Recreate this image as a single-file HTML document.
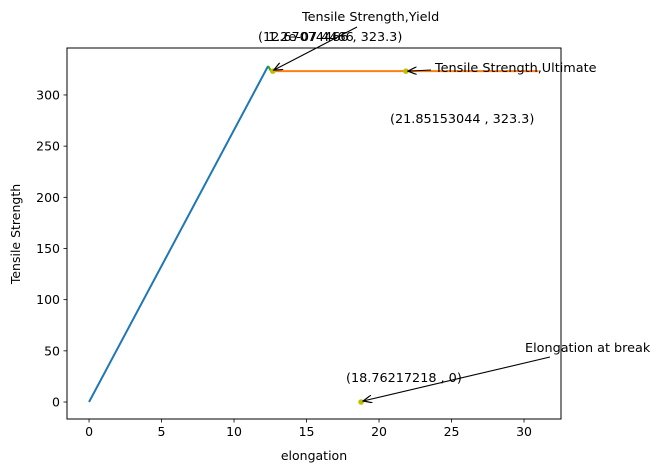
<!DOCTYPE html>
<html><head><meta charset="utf-8"><style>
body{margin:0;background:#fff}
svg{display:block;font-family:"DejaVu Sans","Liberation Sans",sans-serif}
</style></head><body>
<svg id="c" width="671" height="472" xmlns="http://www.w3.org/2000/svg">
<defs><marker id="ah" markerWidth="10" markerHeight="8" refX="9" refY="4" orient="auto" markerUnits="userSpaceOnUse"><path d="M0,0 L9,4 L0,8" fill="none" stroke="#000" stroke-width="1.2"/></marker></defs>
</svg>
<script>
const elasticX=[0,12.35];
const elasticY=[0,328.3];
const transX=[12.35,12.55];
const transY=[328.3,323.3];
const plasticX=[12.67,31];
const plasticY=[323.3,323.3];
const pointsX=[12.67074466,21.85153044,18.76217218];
const pointsY=[323.3,323.3,0];
const xTicks=[0,5,10,15,20,25,30];
const yTicks=[0,50,100,150,200,250,300];
const L=67,R=561,T=48,B=419,xmin=-1.52,xmax=32.55,ymin=-16.6,ymax=345.9;
const sx=v=>L+(v-xmin)/(xmax-xmin)*(R-L);
const sy=v=>B-(v-ymin)/(ymax-ymin)*(B-T);
const svg=document.getElementById('c');
const NS='http://www.w3.org/2000/svg';
function mk(t,a,p){const e=document.createElementNS(NS,t);for(const k in a)e.setAttribute(k,a[k]);(p||svg).appendChild(e);return e;}
function line(xs,ys,col,name){const e=mk('polyline',{points:xs.map((x,i)=>sx(x)+','+sy(ys[i])).join(' '),fill:'none',stroke:col,'stroke-width':2});

}
line(elasticX,elasticY,'#1f77b4','elastic-line');
line(transX,transY,'#2ca02c','transition-line');
line(plasticX,plasticY,'#ff7f0e','plastic-line');
pointsX.forEach((x,i)=>{const c=mk('circle',{cx:sx(x),cy:sy(pointsY[i]),r:2.8,fill:'#bfbf00'});

});
const frame=mk('rect',{x:L,y:T,width:R-L,height:B-T,fill:'none',stroke:'#000','stroke-width':1});


xTicks.forEach(v=>{const x=sx(v);mk('line',{x1:x,x2:x,y1:B,y2:B+3.5,stroke:'#000','stroke-width':0.8});
const t=mk('text',{x:x,y:B+17,'text-anchor':'middle','font-size':12.5});t.textContent=v;

});
yTicks.forEach(v=>{const y=sy(v);mk('line',{x1:L,x2:L-3.5,y1:y,y2:y,stroke:'#000','stroke-width':0.8});
const t=mk('text',{x:L-7,y:y+4.5,'text-anchor':'end','font-size':12.5});t.textContent=v;

});
function txt(s,x,y,name,extra){const t=mk('text',Object.assign({x:x,y:y,'font-size':12.8},extra||{}));t.textContent=s;

return t;}
txt('elongation',314,460,'x-axis-title',{'text-anchor':'middle','font-size':12.5});
txt('Tensile Strength',20,234,'y-axis-title',{'text-anchor':'middle','font-size':12.5,transform:'rotate(-90 20 234)'});
function arrow(x1,y1,x2,y2,name){const a=mk('line',{x1:x1,y1:y1,x2:x2,y2:y2,stroke:'#000','stroke-width':1.1,'marker-end':'url(#ah)'});

}
arrow(357,27,sx(pointsX[0])+1,sy(pointsY[0])-1,'yield-arrow');
arrow(431,70,sx(pointsX[1])+2,sy(pointsY[1]),'ultimate-arrow');
arrow(550,357,sx(pointsX[2])+2,sy(pointsY[2])-1,'break-arrow');
txt('Tensile Strength,Yield',302,21,'yield-label');
txt('(12.67074466 , 323.3)',258,41,'yield-value');
txt('1.2e-07 4466',268,41,'yield-value-overlap');
txt('Tensile Strength,Ultimate',435,72,'ultimate-label');
txt('(21.85153044 , 323.3)',390,123,'ultimate-value');
txt('Elongation at break',525,352,'break-label');
txt('(18.76217218 , 0)',346,382,'break-value');
</script>
</body></html>
